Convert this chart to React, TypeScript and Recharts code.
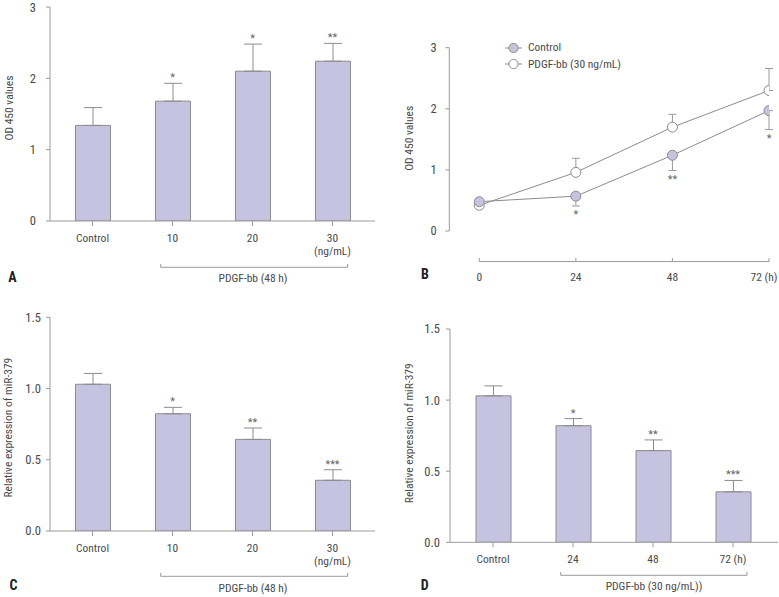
import React from 'react';
import {
  ComposedChart,
  Bar,
  Line,
  XAxis,
  YAxis,
  ErrorBar,
  LabelList,
  ReferenceLine,
  Legend,
  Label,
} from 'recharts';

const FONT = "'Liberation Sans Narrow', 'Roboto Condensed', 'DejaVu Sans Condensed', 'Liberation Sans', sans-serif";
const TEXT = '#4a4a4a';
const AXIS = '#9a9a9a';
const BAR_FILL = '#c5c3df';
const BAR_STROKE = '#8c8c8c';
const LINE_STROKE = '#8c8c8c';

// ---- Panel A: OD450 by PDGF-bb dose (48 h)
const doseCategories = ['Control', '10', '20', '30'];
const doseSubLabels = ['', '', '', '(ng/mL)'];
const odDose = [1.34, 1.68, 2.1, 2.24];
const odDoseErr = [0.25, 0.25, 0.38, 0.25];
const odDoseSig = ['', '*', '*', '**'];

// ---- Panel B: OD450 over time
const hours = [0, 24, 48, 72];
const odControl = [0.48, 0.57, 1.24, 1.97];
const odControlErr = [0.02, 0.16, 0.25, 0.31];
const odPdgf = [0.42, 0.96, 1.7, 2.3];
const odPdgfErr = [0.02, 0.23, 0.21, 0.36];
const odTimeSig = ['', '*', '**', '*'];
const seriesNames = ['Control', 'PDGF-bb (30 ng/mL)'];

// ---- Panel C: miR-379 by dose
const mirDose = [1.03, 0.823, 0.643, 0.356];
const mirDoseErr = [0.076, 0.045, 0.08, 0.074];
const mirDoseSig = ['', '*', '**', '***'];

// ---- Panel D: miR-379 over time
const timeCategories = ['Control', '24', '48', '72 (h)'];
const timeSubLabels = ['', '', '', ''];
const mirTime = [1.03, 0.82, 0.645, 0.355];
const mirTimeErr = [0.07, 0.05, 0.075, 0.08];
const mirTimeSig = ['', '*', '**', '***'];

const buildBarData = (cats: string[], vals: number[], errs: number[], sig: string[]) =>
  cats.map((c, i) => ({
    cat: c,
    value: vals[i],
    err: [0, errs[i]],
    top: vals[i] + errs[i],
    sig: sig[i],
  }));

const dataA = buildBarData(doseCategories, odDose, odDoseErr, odDoseSig);
const dataC = buildBarData(doseCategories, mirDose, mirDoseErr, mirDoseSig);
const dataD = buildBarData(timeCategories, mirTime, mirTimeErr, mirTimeSig);

const dataB = hours.map((h, i) => ({
  h,
  control: odControl[i],
  controlErr: [odControlErr[i], 0],
  pdgf: odPdgf[i],
  pdgfErr: [0, odPdgfErr[i]],
  sigY: odControl[i] - odControlErr[i],
  sig: odTimeSig[i],
}));

const makeYTitle = (text: string, offsetX: number, offsetY: number) => (props: any) => {
  const vb = props.viewBox || { x: 0, y: 0, width: 0, height: 0 };
  const cx = vb.x + offsetX;
  const cy = vb.y + vb.height / 2 + offsetY;
  return (
    <text
      x={cx}
      y={cy}
      transform={`rotate(-90 ${cx} ${cy})`}
      textAnchor="middle"
      dominantBaseline="central"
      fontSize={11.5}
      fill={TEXT}
      fontFamily={FONT}
    >
      {text}
    </text>
  );
};

const makeCatTick = (subLabels: string[]) => (props: any) => {
  const { x, y, payload, index } = props;
  const sub = subLabels[index];
  return (
    <g>
      <text x={x} y={y} dy="0.71em" textAnchor="middle" fill={TEXT} fontSize={11.5} fontFamily={FONT}>
        {payload.value}
      </text>
      {sub ? (
        <text x={x} y={y + 13} dy="0.71em" textAnchor="middle" fill={TEXT} fontSize={11.5} fontFamily={FONT}>
          {sub}
        </text>
      ) : null}
    </g>
  );
};

type BarPanelProps = {
  data: any[];
  subLabels: string[];
  width: number;
  height: number;
  margin: { top: number; right: number; bottom: number; left: number };
  yAxisWidth: number;
  yDomain: [number, number];
  yTicks: number[];
  yFmt: (v: number) => string;
  yTickMargin: number;
  padding: { left: number; right: number };
  yTitle: string;
  yTitleX: number;
  yTitleDy: number;
};

function BarPanel(p: BarPanelProps) {
  return (
    <ComposedChart width={p.width} height={p.height} data={p.data} margin={p.margin}>
      <XAxis
        dataKey="cat"
        type="category"
        height={30}
        padding={p.padding}
        axisLine={{ stroke: AXIS }}
        tickLine={{ stroke: AXIS }}
        tickSize={5}
        tickMargin={8}
        interval={0}
        tick={makeCatTick(p.subLabels)}
      />
      <YAxis
        type="number"
        width={p.yAxisWidth}
        domain={p.yDomain}
        ticks={p.yTicks}
        tickFormatter={p.yFmt}
        axisLine={{ stroke: AXIS }}
        tickLine={{ stroke: AXIS }}
        tickSize={4}
        tickMargin={p.yTickMargin}
        tick={{ fill: TEXT, fontSize: 12.5, fontFamily: FONT }}
        allowDataOverflow
      >
        <Label content={makeYTitle(p.yTitle, p.yTitleX, p.yTitleDy)} />
      </YAxis>
      <Bar dataKey="value" fill={BAR_FILL} stroke={BAR_STROKE} strokeWidth={1} barSize={35} isAnimationActive={false}>
        <ErrorBar dataKey="err" width={9} stroke={BAR_STROKE} strokeWidth={1} direction="y" />
      </Bar>
      <Line
        dataKey="top"
        stroke="none"
        dot={false}
        activeDot={false}
        legendType="none"
        isAnimationActive={false}
      >
        <LabelList dataKey="sig" position="top" offset={2} fill="#666" fontSize={11} fontFamily={FONT} />
      </Line>
    </ComposedChart>
  );
}

const HourTick = (props: any) => {
  const { x, y, payload, index } = props;
  const isLast = index === hours.length - 1;
  return (
    <g>
      <line x1={x} x2={x} y1={y + 27} y2={y + 30.6} stroke={AXIS} />
      <text
        x={isLast ? x - 5 : x}
        y={y + 49.5}
        textAnchor="middle"
        fill={TEXT}
        fontSize={11.5}
        fontFamily={FONT}
      >
        {isLast ? `${payload.value} (h)` : payload.value}
      </text>
    </g>
  );
};

const seriesFills = [BAR_FILL, '#ffffff'];

const renderLegend = () => (
  <div style={{ fontFamily: FONT, fontSize: 11.5, color: TEXT, lineHeight: '16.6px' }}>
    {seriesNames.map((name, i) => (
      <div key={name} style={{ display: 'flex', alignItems: 'center', height: 16.6, whiteSpace: 'nowrap' }}>
        <svg width={17} height={16} style={{ display: 'block', marginRight: 6 }}>
          <line x1={0} x2={17} y1={8} y2={8} stroke={LINE_STROKE} />
          <circle cx={8.5} cy={8} r={4.6} fill={seriesFills[i]} stroke={LINE_STROKE} />
        </svg>
        <span>{name}</span>
      </div>
    ))}
  </div>
);

function LinePanel() {
  return (
    <ComposedChart width={389} height={300} data={dataB} margin={{ top: 47.7, right: 10, bottom: 24, left: 0 }}>
      <XAxis
        dataKey="h"
        type="number"
        domain={[-7.45, 72]}
        ticks={hours}
        allowDataOverflow
        height={45}
        axisLine={false}
        tickLine={false}
        tickSize={0}
        tickMargin={0}
        tick={HourTick}
      />
      <YAxis
        type="number"
        width={59.3}
        domain={[0, 3]}
        ticks={[0, 1, 2, 3]}
        axisLine={{ stroke: AXIS }}
        tickLine={{ stroke: AXIS }}
        tickSize={4}
        tickMargin={8.6}
        tick={{ fill: TEXT, fontSize: 12.5, fontFamily: FONT }}
        allowDataOverflow
      >
        <Label content={makeYTitle('OD 450 values', 19, -1)} />
      </YAxis>
      <ReferenceLine
        segment={[
          { x: hours[0], y: -0.5 },
          { x: hours[hours.length - 1], y: -0.5 },
        ]}
        stroke={AXIS}
        ifOverflow="visible"
      />
      <Legend
        content={renderLegend}
        layout="vertical"
        align="center"
        verticalAlign="middle"
        wrapperStyle={{ left: 115, top: 39.4, width: 'auto', height: 'auto' }}
      />
      <Line
        dataKey="pdgf"
        name={seriesNames[1]}
        type="linear"
        stroke={LINE_STROKE}
        strokeWidth={1}
        dot={{ r: 5, fill: '#ffffff', stroke: LINE_STROKE, strokeWidth: 1 }}
        activeDot={false}
        isAnimationActive={false}
      >
        <ErrorBar dataKey="pdgfErr" width={4} stroke="#9a9a9a" strokeWidth={1} direction="y" />
      </Line>
      <Line
        dataKey="control"
        name={seriesNames[0]}
        type="linear"
        stroke={LINE_STROKE}
        strokeWidth={1}
        dot={{ r: 5, fill: BAR_FILL, stroke: LINE_STROKE, strokeWidth: 1 }}
        activeDot={false}
        isAnimationActive={false}
      >
        <ErrorBar dataKey="controlErr" width={4} stroke="#9a9a9a" strokeWidth={1} direction="y" />
      </Line>
      <Line
        dataKey="sigY"
        stroke="none"
        dot={false}
        activeDot={false}
        legendType="none"
        isAnimationActive={false}
      >
        <LabelList dataKey="sig" position="bottom" offset={4.5} fill="#666" fontSize={11} fontFamily={FONT} />
      </Line>
    </ComposedChart>
  );
}

const textStyle = { fontFamily: FONT, fill: TEXT };

export default function App() {
  return (
    <div style={{ position: 'absolute', left: 0, top: 0, width: 779, height: 597, background: '#fff' }}>
      <div style={{ position: 'absolute', left: 0, top: 0 }}>
        <BarPanel
          data={dataA}
          subLabels={doseSubLabels}
          width={390}
          height={300}
          margin={{ top: 7, right: 15, bottom: 49, left: 0 }}
          yAxisWidth={50}
          yDomain={[0, 3]}
          yTicks={[0, 1, 2, 3]}
          yFmt={(v) => String(v)}
          yTickMargin={10}
          padding={{ left: 2.5, right: 2.5 }}
          yTitle="OD 450 values"
          yTitleX={8.5}
          yTitleDy={-6}
        />
      </div>
      <div style={{ position: 'absolute', left: 390, top: 0 }}>
        <LinePanel />
      </div>
      <div style={{ position: 'absolute', left: 0, top: 300 }}>
        <BarPanel
          data={dataC}
          subLabels={doseSubLabels}
          width={390}
          height={297}
          margin={{ top: 17.3, right: 15, bottom: 36, left: 0 }}
          yAxisWidth={50}
          yDomain={[0, 1.5]}
          yTicks={[0, 0.5, 1, 1.5]}
          yFmt={(v) => v.toFixed(1)}
          yTickMargin={5}
          padding={{ left: 2.5, right: 2.5 }}
          yTitle="Relative expression of miR-379"
          yTitleX={8.5}
          yTitleDy={3.5}
        />
      </div>
      <div style={{ position: 'absolute', left: 390, top: 300 }}>
        <BarPanel
          data={dataD}
          subLabels={timeSubLabels}
          width={389}
          height={297}
          margin={{ top: 29, right: 1, bottom: 24.7, left: 0 }}
          yAxisWidth={60}
          yDomain={[0, 1.5]}
          yTicks={[0, 0.5, 1, 1.5]}
          yFmt={(v) => v.toFixed(1)}
          yTickMargin={6}
          padding={{ left: 3, right: 5 }}
          yTitle="Relative expression of miR-379"
          yTitleX={18.5}
          yTitleDy={-2.4}
        />
      </div>
      <svg
        width={779}
        height={597}
        style={{ position: 'absolute', left: 0, top: 0, pointerEvents: 'none' }}
      >
        {/* panel letters */}
        <text x={8.3} y={281.7} fontSize={14} fontWeight="bold" fontFamily={FONT} fill="#222">A</text>
        <text x={421} y={279} fontSize={14} fontWeight="bold" fontFamily={FONT} fill="#222">B</text>
        <text x={9.5} y={590} fontSize={14} fontWeight="bold" fontFamily={FONT} fill="#222">C</text>
        <text x={420.7} y={590} fontSize={14} fontWeight="bold" fontFamily={FONT} fill="#222">D</text>
        {/* brackets */}
        <path d="M160.7,264 V267.3 H347.7 V264" fill="none" stroke={AXIS} />
        <text x={253} y={282} textAnchor="middle" fontSize={11.5} {...textStyle}>PDGF-bb (48 h)</text>
        <path d="M160.7,573 V576.3 H347.7 V573" fill="none" stroke={AXIS} />
        <text x={253} y={591.5} textAnchor="middle" fontSize={11.5} {...textStyle}>PDGF-bb (48 h)</text>
        <path d="M560.7,572 V575.3 H747 V572" fill="none" stroke={AXIS} />
        <text x={654} y={590} textAnchor="middle" fontSize={11.5} {...textStyle}>PDGF-bb (30 ng/mL))</text>
      </svg>
    </div>
  );
}
